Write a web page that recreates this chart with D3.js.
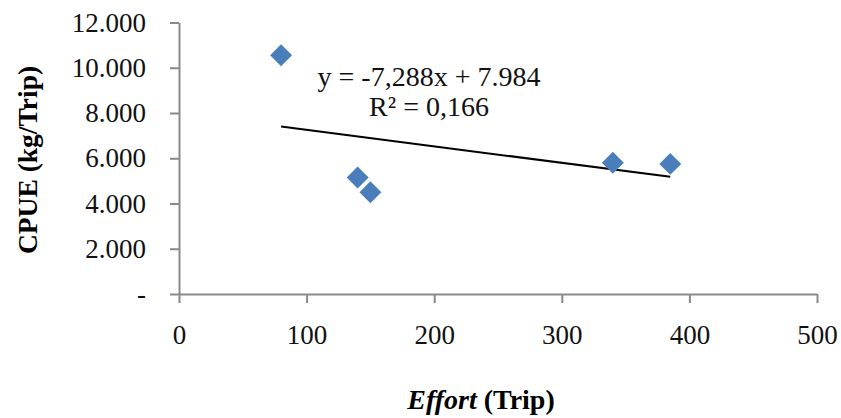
<!DOCTYPE html>
<html><head><meta charset="utf-8">
<script src="https://cdn.jsdelivr.net/npm/d3@7/dist/d3.min.js"></script>
<style>body{margin:0;background:#fff}svg{display:block}</style>
</head><body>
<svg id="c" width="841" height="418"></svg>
<script>
// Data
const effort = [80, 140, 150, 340, 385];          // Trip
const cpue   = [10550, 5150, 4500, 5800, 5750];   // kg/Trip
const xTicks = [0, 100, 200, 300, 400, 500];
const yTicks = [0, 2000, 4000, 6000, 8000, 10000, 12000];
const trendSlope = -7.288;
const trendIntercept = 7984;
const eqLines = ["y = -7,288x + 7.984", "R\u00B2 = 0,166"];
const xTitleItalic = "Effort";
const xTitleRest = " (Trip)";
const yTitle = "CPUE (kg/Trip)";

const svg = d3.select("#c");
const m = {left:179, right:817, top:22.5, bottom:294};
const x = d3.scaleLinear().domain([0,500]).range([m.left, m.right]);
const y = d3.scaleLinear().domain([0,12000]).range([m.bottom, m.top]);
const font = "'Liberation Serif','Times New Roman',serif";
const loc = d3.formatLocale({decimal:",", thousands:".", grouping:[3], currency:["",""]});
const yfmt = v => v === 0 ? "-" : loc.format(",.0f")(v);
const axisColor = "#898989";

// Y axis
const ya = svg.append("g").attr("transform",`translate(${m.left},0)`)
  .call(d3.axisLeft(y).tickValues(yTicks).tickFormat(yfmt).tickSizeOuter(0).tickSizeInner(9).tickPadding(24));
ya.select(".domain").attr("stroke",axisColor).attr("stroke-width",2);
ya.selectAll(".tick line").attr("stroke",axisColor).attr("stroke-width",2);
ya.selectAll(".tick text").attr("font-family",font).attr("font-size",27).attr("fill","#111");

// X axis
const xa = svg.append("g").attr("transform",`translate(0,${m.bottom})`)
  .call(d3.axisBottom(x).tickValues(xTicks).tickFormat(d3.format("d")).tickSizeOuter(0).tickSizeInner(9).tickPadding(22));
xa.select(".domain").attr("stroke",axisColor).attr("stroke-width",2);
xa.selectAll(".tick line").attr("stroke",axisColor).attr("stroke-width",2);
xa.selectAll(".tick text").attr("font-family",font).attr("font-size",27).attr("fill","#111");

// Trendline
const x0 = d3.min(effort), x1 = d3.max(effort);
const line = d3.line().x(d=>x(d[0])).y(d=>y(d[1]));
svg.append("path")
  .attr("d", line([[x0, trendSlope*x0+trendIntercept],[x1, trendSlope*x1+trendIntercept]]))
  .attr("stroke","#000").attr("stroke-width",2).attr("fill","none");

// Points
const sym = d3.symbol().type(d3.symbolSquare).size(240);
svg.append("g").selectAll("path").data(effort.map((e,i)=>[e,cpue[i]])).join("path")
  .attr("d", sym)
  .attr("transform", d=>`translate(${x(d[0])},${y(d[1])}) rotate(45)`)
  .attr("fill","#4A7EBB");

// Equation
const eq = svg.append("text").attr("font-family",font).attr("font-size",28).attr("fill","#111")
  .attr("text-anchor","middle");
eq.append("tspan").attr("x",429).attr("y",86).text(eqLines[0]);
eq.append("tspan").attr("x",429).attr("y",116).text(eqLines[1]);

// X title
const xt = svg.append("text").attr("font-family",font).attr("font-size",28).attr("font-weight","bold")
  .attr("text-anchor","middle").attr("x",481).attr("y",409).attr("fill","#000");
xt.append("tspan").attr("font-style","italic").text(xTitleItalic);
xt.append("tspan").text(xTitleRest);

// Y title
svg.append("text").attr("font-family",font).attr("font-size",27.5).attr("font-weight","bold")
  .attr("text-anchor","middle").attr("transform","translate(37,160) rotate(-90)").attr("fill","#000")
  .text(yTitle);
</script>
</body></html>
